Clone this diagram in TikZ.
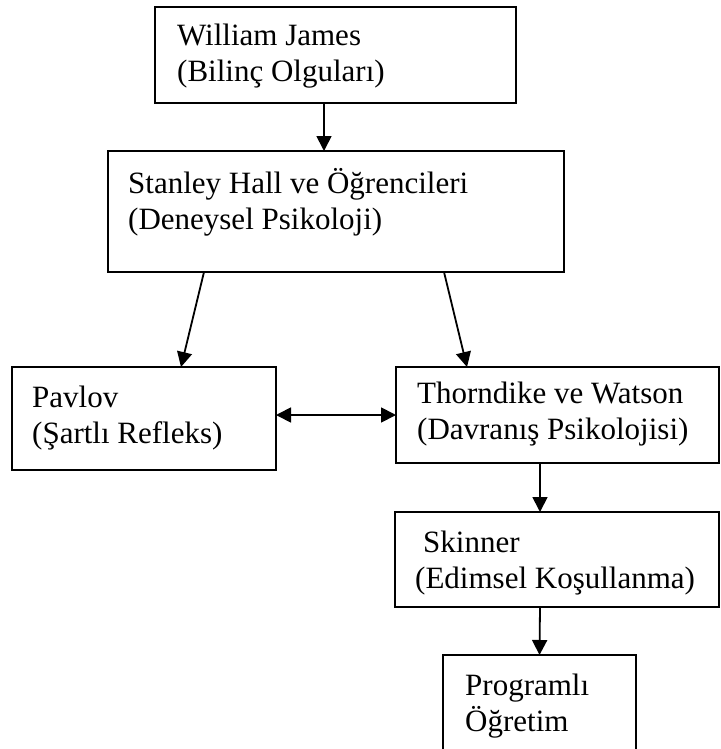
\documentclass[tikz,border=0pt]{standalone}
\usepackage{fontspec}
\setmainfont{Liberation Serif}
\usetikzlibrary{arrows.meta}
\begin{document}
\begin{tikzpicture}[x=1pt,y=-1pt,
  box/.style={draw, line width=1.8pt, rectangle, inner sep=0pt, outer sep=0pt, anchor=north west},
  txt/.style={anchor=base west, inner sep=0pt, font=\fontsize{31}{36}\selectfont},
  arr/.style={line width=1.8pt, -{Triangle[length=15pt,width=15pt]}},
  darr/.style={line width=1.8pt, {Triangle[length=15pt,width=15pt]}-{Triangle[length=15pt,width=15pt]}}]
\useasboundingbox (0,0) rectangle (720,749);
% boxes
\node[box, minimum width=361pt, minimum height=96pt] (wj) at (155,7) {};
\node[box, minimum width=456pt, minimum height=121pt] (sh) at (108,151) {};
\node[box, minimum width=264pt, minimum height=103pt] (pav) at (12,367) {};
\node[box, minimum width=323pt, minimum height=96pt] (th) at (396,367) {};
\node[box, minimum width=324pt, minimum height=95pt] (sk) at (395,512) {};
\node[box, minimum width=193pt, minimum height=98pt] (pr) at (443,655) {};
% texts
\node[txt] (wj1) at (177,46) {William James};
\node[txt] (wj2) at (177,82) {(Bilinç Olguları)};
\node[txt] (sh1) at (128,193) {Stanley Hall ve Öğrencileri};
\node[txt] (sh2) at (128,229) {(Deneysel Psikoloji)};
\node[txt] (pav1) at (32,407) {Pavlov};
\node[txt] (pav2) at (32,443) {(Şartlı Refleks)};
\node[txt] (th1) at (417,403) {Thorndike ve Watson};
\node[txt] (th2) at (417,439) {(Davranış Psikolojisi)};
\node[txt] (sk1) at (423,552) {Skinner};
\node[txt] (sk2) at (415,588) {(Edimsel Koşullanma)};
\node[txt] (pr1) at (465,695) {Programlı};
\node[txt] (pr2) at (465,731) {Öğretim};
% connectors
\draw[arr] ([xshift=169pt]wj.south west) -- ([xshift=216pt]sh.north west);
\draw[arr] ([xshift=96pt]sh.south west) -- ([xshift=169pt]pav.north west);
\draw[arr] ([xshift=336pt]sh.south west) -- ([xshift=71pt]th.north west);
\draw[darr] (th.west -| pav.east) -- (th.west);
\draw[arr] ([xshift=144pt]th.south west) -- ([xshift=145pt]sk.north west);
\draw[arr] ([xshift=145pt]sk.south west) -- (pr.north);
\end{tikzpicture}
\end{document}
